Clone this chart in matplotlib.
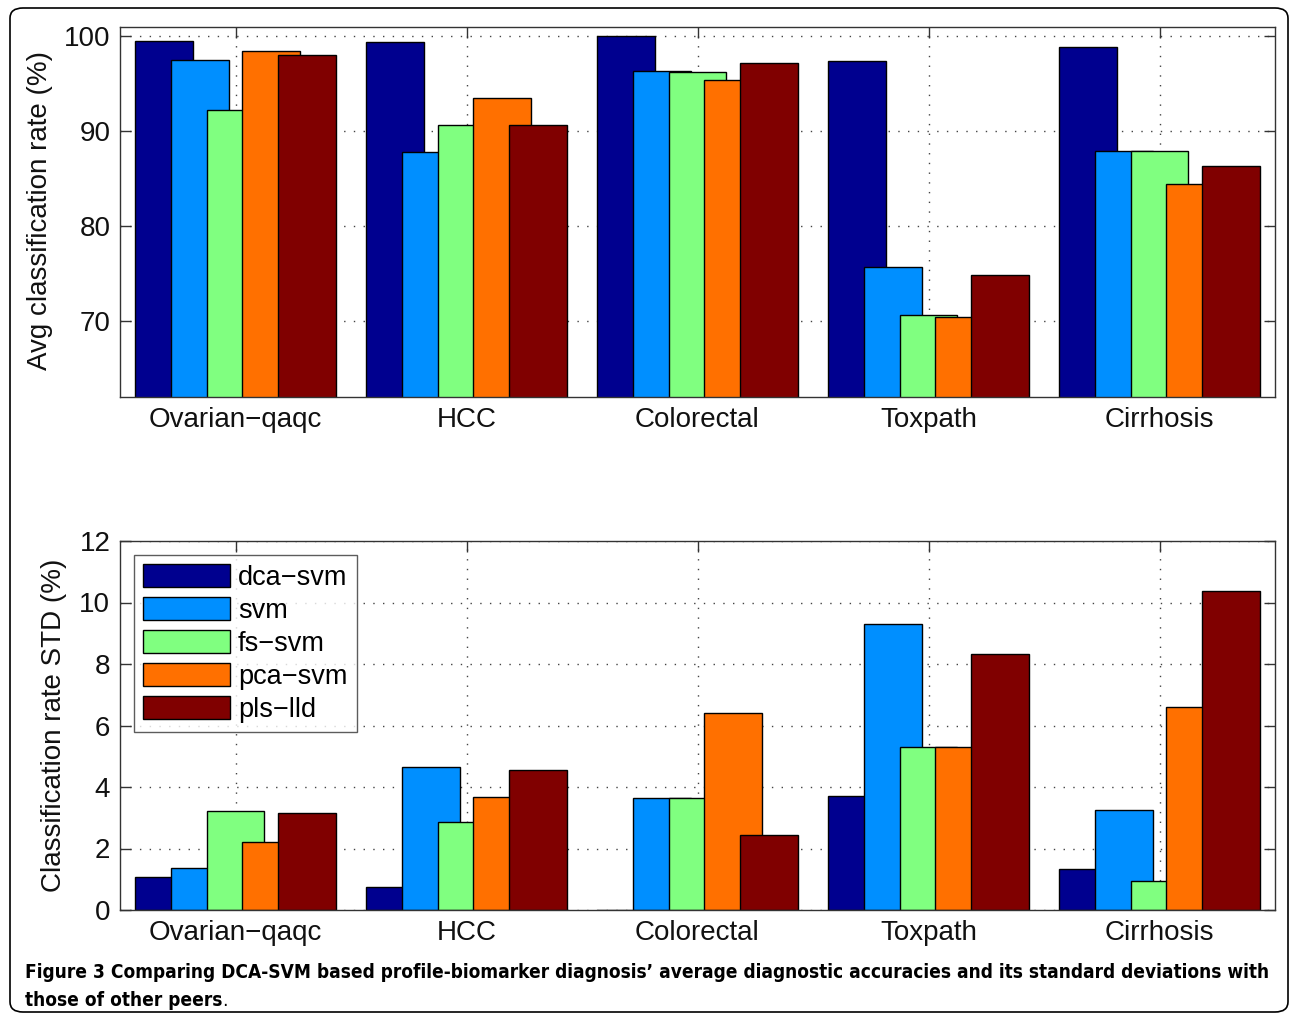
import matplotlib
matplotlib.use("Agg")
import matplotlib.pyplot as plt
import numpy as np
from matplotlib.patches import FancyBboxPatch

# data
datasets = ["Ovarian\u2212qaqc", "HCC", "Colorectal", "Toxpath", "Cirrhosis"]
methods = ["dca\u2212svm", "svm", "fs\u2212svm", "pca\u2212svm", "pls\u2212lld"]

# average classification rate (%), one list per method
avg_dca = [99.5, 99.4, 100.0, 97.4, 98.9]
avg_svm = [97.5, 87.8, 96.4, 75.7, 87.9]
avg_fs = [92.3, 90.7, 96.3, 70.6, 87.9]
avg_pca = [98.5, 93.5, 95.4, 70.4, 84.5]
avg_pls = [98.1, 90.7, 97.2, 74.9, 86.3]

# classification rate STD (%)
std_dca = [1.08, 0.76, 0.0, 3.72, 1.34]
std_svm = [1.35, 4.66, 3.65, 9.31, 3.24]
std_fs = [3.21, 2.86, 3.65, 5.31, 0.94]
std_pca = [2.22, 3.67, 6.42, 5.31, 6.61]
std_pls = [3.17, 4.55, 2.45, 8.32, 10.36]

# jet(5) like matlab
colors = [(0, 0, 0.5625), (0, 0.5625, 1), (0.5, 1, 0.5), (1, 0.4375, 0), (0.5, 0, 0)]

plt.rcParams['font.family'] = ['Liberation Sans', 'DejaVu Sans']

W, H = 1293, 1018
fig = plt.figure(figsize=(W / 100, H / 100), dpi=100)

ax1 = fig.add_axes([120 / W, 1 - 397 / H, 1155 / W, 370 / H])
ax2 = fig.add_axes([120 / W, 1 - 910 / H, 1155 / W, 369 / H])

x = np.arange(1, len(datasets) + 1)
offsets = [-0.308, -0.154, 0.0, 0.154, 0.308]


def draw(ax, series, ylim, yticks):
    for i, vals in enumerate(series):
        ax.bar(x + offsets[i], vals, width=0.25, color=colors[i],
               edgecolor="black", linewidth=1.0, label=methods[i], zorder=2)
    ax.set_xlim(0.5, 5.5)
    ax.set_ylim(*ylim)
    ax.set_yticks(yticks)
    ax.set_xticks(x)
    ax.set_xticklabels(datasets)
    ax.set_axisbelow(True)
    ax.grid(True, linestyle=(0, (1, 6)), color="#444444", linewidth=1.0)
    ax.tick_params(direction="in", top=True, right=True, length=8,
                   width=1, labelsize=20, pad=7, colors="#333333",
                   labelcolor="#111111")
    for s in ax.spines.values():
        s.set_color("#333333")
        s.set_linewidth(1.0)


draw(ax1, [avg_dca, avg_svm, avg_fs, avg_pca, avg_pls], (62, 101), [70, 80, 90, 100])
draw(ax2, [std_dca, std_svm, std_fs, std_pca, std_pls], (0, 12), [0, 2, 4, 6, 8, 10, 12])

ax1.set_ylabel("Avg classification rate (%)", fontsize=20, color="#111111")
ax1.yaxis.set_label_coords(-0.058, 0.505)
ax2.set_ylabel("Classification rate STD (%)", fontsize=20, color="#111111")
ax2.yaxis.set_label_coords(-0.046, 0.50)

leg = ax2.legend(loc="upper left", fontsize=19.5, frameon=True, fancybox=False,
                 edgecolor="#333333", handlelength=3.2, handleheight=0.95,
                 labelspacing=0.22, borderaxespad=0.5, handletextpad=0.3,
                 borderpad=0.35)
leg.get_frame().set_linewidth(1.0)

# caption, fitted to the frame width
cap_font = ['DejaVu Sans']
line1 = fig.text(25 / W, 1 - 973 / H,
                 "Figure 3 Comparing DCA-SVM based profile-biomarker diagnosis\u2019 average diagnostic accuracies and its standard deviations with",
                 fontsize=15, fontweight="bold", fontstretch="condensed",
                 family=cap_font, va="center", ha="left")
fig.canvas.draw()
w1 = line1.get_window_extent().width
cap_size = 15 * 1253 / w1
line1.set_fontsize(cap_size)
t2 = fig.text(25 / W, 1 - 1000 / H, "those of other peers",
              fontsize=cap_size, fontweight="bold", fontstretch="condensed",
              family=cap_font, va="center", ha="left")
fig.canvas.draw()
bb = t2.get_window_extent()
fig.text(bb.x1 / W, 1 - 1000 / H, ".", fontsize=cap_size, fontstretch="condensed",
         family=cap_font, va="center", ha="left")

# outer rounded frame
frame = FancyBboxPatch((10 / W, 6 / H), 1278 / W, 1004 / H,
                       boxstyle="round,pad=0,rounding_size=0.01",
                       transform=fig.transFigure, fill=False,
                       edgecolor="black", linewidth=1.2)
fig.patches.append(frame)

fig.savefig("out.png", dpi=100)
